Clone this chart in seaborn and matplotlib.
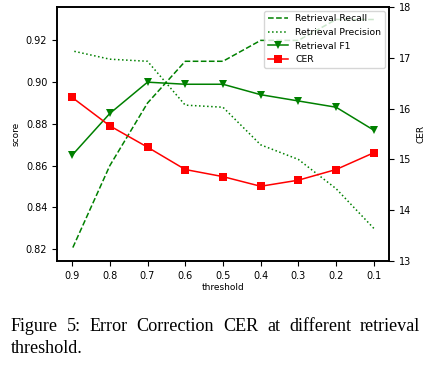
import matplotlib
matplotlib.use("Agg")
import matplotlib.pyplot as plt
import seaborn as sns
import pandas as pd

thresholds = [0.9, 0.8, 0.7, 0.6, 0.5, 0.4, 0.3, 0.2, 0.1]
recall = [0.820, 0.860, 0.890, 0.910, 0.910, 0.920, 0.920, 0.930, 0.930]
precision = [0.915, 0.911, 0.910, 0.889, 0.888, 0.870, 0.863, 0.849, 0.830]
f1 = [0.865, 0.885, 0.900, 0.899, 0.899, 0.894, 0.891, 0.888, 0.877]
cer = [16.22, 15.66, 15.24, 14.80, 14.66, 14.47, 14.59, 14.80, 15.13]
x_ticks = [0.9, 0.8, 0.7, 0.6, 0.5, 0.4, 0.3, 0.2, 0.1]
caption_line1 = ["Figure", "5:", "Error", "Correction", "CER", "at", "different", "retrieval"]
caption_line2 = "threshold."

df = pd.DataFrame({"threshold": thresholds, "recall": recall,
                   "precision": precision, "f1": f1, "cer": cer})

fig = plt.figure(figsize=(4.35, 3.67), dpi=100)
ax = fig.add_axes([0.131, 0.289, 0.763, 0.692])
ax2 = ax.twinx()

sns.lineplot(data=df, x="threshold", y="recall", ax=ax, color="green",
             linestyle="--", linewidth=1.1, label="Retrieval Recall", legend=False)
sns.lineplot(data=df, x="threshold", y="precision", ax=ax, color="green",
             linestyle=":", linewidth=1.1, label="Retrieval Precision", legend=False)
sns.lineplot(data=df, x="threshold", y="f1", ax=ax, color="green",
             marker="v", markersize=6, markeredgewidth=0, linewidth=1.1,
             label="Retrieval F1", legend=False)
sns.lineplot(data=df, x="threshold", y="cer", ax=ax2, color="red",
             marker="s", markersize=6, markeredgewidth=0, linewidth=1.1,
             label="CER", legend=False)

ax.set_xlim(0.94, 0.06)
ax.set_ylim(0.8144, 0.936)
ax2.set_ylim(13, 18)
ax.set_xticks(x_ticks)
ax.set_xticklabels([str(t) for t in x_ticks])
ax.set_yticks([0.82, 0.84, 0.86, 0.88, 0.90, 0.92])
ax2.set_yticks([13, 14, 15, 16, 17, 18])

ax.tick_params(labelsize=7)
ax2.tick_params(labelsize=7)
ax.set_xlabel("threshold", fontsize=6.5, labelpad=2)
ax.set_ylabel("score", fontsize=6.5)
ax2.set_ylabel("CER", fontsize=6.5)
for a in (ax, ax2):
    for s in a.spines.values():
        s.set_linewidth(1.2)

h1, l1 = ax.get_legend_handles_labels()
h2, l2 = ax2.get_legend_handles_labels()
ax2.legend(h1 + h2, l1 + l2, loc="upper right", fontsize=6.7,
           framealpha=0.8, borderaxespad=0.4, handlelength=2.2)

# justified caption
W = 435.0
x_left, x_right = 11.0, 420.0
fs = 13.1
renderer = fig.canvas.get_renderer()
words = []
total = 0.0
for w in caption_line1:
    t = fig.text(0, 0.11, w, fontsize=fs, family="Liberation Serif",
                 ha="left", va="center")
    width = t.get_window_extent(renderer=renderer).width
    words.append((t, width))
    total += width
gap = ((x_right - x_left) - total) / (len(words) - 1)
x = x_left
for i, (t, width) in enumerate(words):
    t.set_x(x / W)
    x += width + gap
fig.text(x_left / W, 0.05, caption_line2, fontsize=fs,
         family="Liberation Serif", ha="left", va="center")

fig.savefig("out.png", dpi=100)
